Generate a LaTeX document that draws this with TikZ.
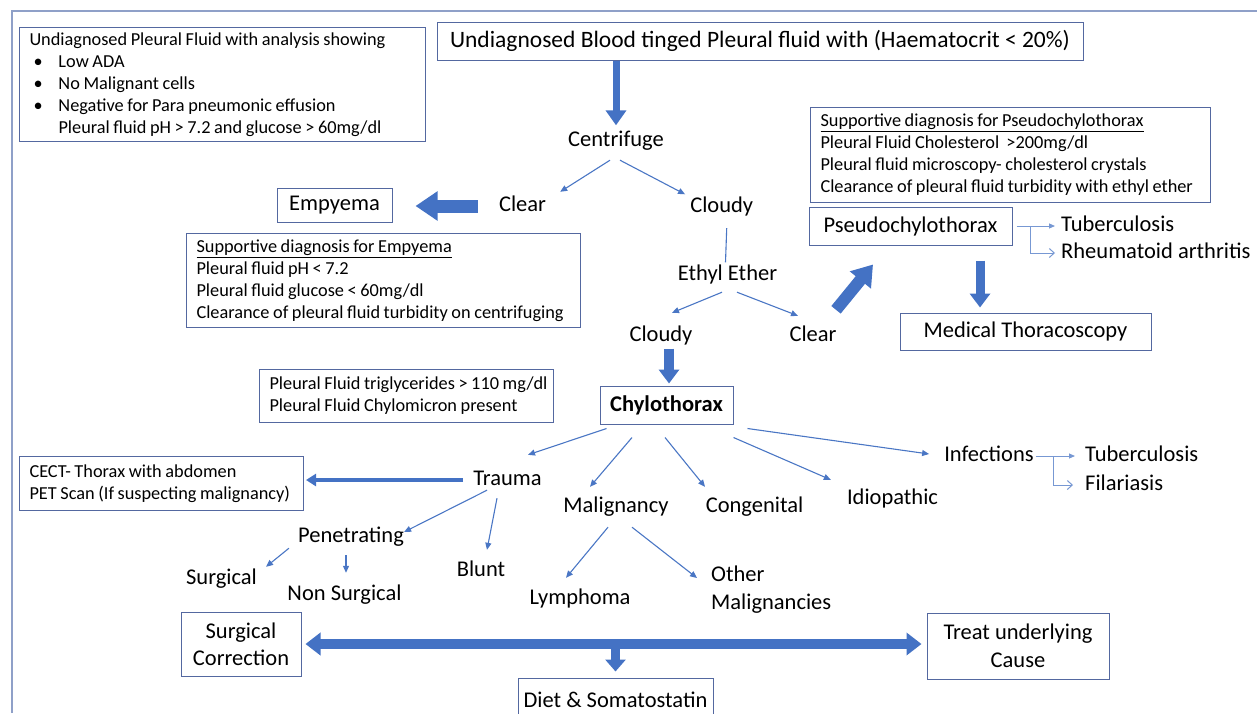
\documentclass[tikz,border=0pt]{standalone}
\usepackage{fontspec}
\setmainfont{Carlito}
\usepackage{tikz}
\usetikzlibrary{arrows.meta, positioning, calc}
\definecolor{framecolor}{RGB}{143, 160, 200}
\definecolor{boxcolor}{RGB}{84, 104, 160}
\definecolor{linkcolor}{RGB}{74, 118, 196}
\definecolor{arrowcolor}{RGB}{68, 114, 196}

\begin{document}
\begin{tikzpicture}[
    x=1pt, y=-1pt,
    label/.style={inner sep=2pt, text height=16pt, text depth=5pt, font=\fontsize{22.5}{27}\selectfont},
    box/.style={draw=boxcolor, line width=1pt, align=center, font=\fontsize{22.5}{27}\selectfont},
    info/.style={draw=boxcolor, line width=1pt, anchor=north west, align=left, inner xsep=10pt, font=\fontsize{18.3}{22}\selectfont,
        execute at begin node={\spaceskip=3.6pt plus 1pt minus 0.5pt\relax}},
    thinarrow/.style={draw=linkcolor, line width=1.1pt, -{Triangle[length=7pt,width=6pt]}},
    branch/.style={draw=linkcolor!75, line width=1pt},
    bigarrow/.style={draw=arrowcolor, line width=9pt, -{Triangle[length=15pt,width=21pt]}}
]
    \useasboundingbox (0,0) rectangle (1257,713);
    \draw[framecolor, line width=2pt] (12,713) -- (12,11) -- (1257,11);

    % Start and first split
    \node[box, minimum width=646pt, minimum height=38pt, font=\fontsize{23.5}{28}\selectfont] (top) at (760,41) {Undiagnosed Blood tinged Pleural fluid with (Haematocrit < 20\%)};
    \node[info, text width=386pt, minimum height=114pt] (lowada) at (19,27) {Undiagnosed Pleural Fluid with analysis showing\\
        \hspace*{4pt}\makebox[25pt][l]{\textbullet}Low ADA\\
        \hspace*{4pt}\makebox[25pt][l]{\textbullet}No Malignant cells\\
        \hspace*{4pt}\makebox[25pt][l]{\textbullet}Negative for Para pneumonic effusion\\
        \hspace*{29pt}Pleural fluid pH > 7.2 and glucose > 60mg/dl};
    \node[label] (centrifuge) at (616,141) {Centrifuge};
    \node[label] (clear) at (522.5,206) {Clear};
    \node[label] (cloudy) at (721.7,207) {Cloudy};

    % Empyema side
    \node[box, minimum width=115pt, minimum height=34pt] (empyema) at (334.5,205) {Empyema};
    \node[info, text width=374pt, minimum height=94pt] (empysupp) at (186,233) {\underline{Supportive diagnosis for Empyema}\\
        Pleural fluid pH < 7.2\\
        Pleural fluid glucose < 60mg/dl\\
        Clearance of pleural fluid turbidity on centrifuging};

    % Ethyl ether split
    \node[label] (ethyl) at (727.5,275) {Ethyl Ether};
    \node[label] (cloudytwo) at (661,336) {Cloudy};
    \node[label] (cleartwo) at (813,336) {Clear};

    % Pseudochylothorax side
    \node[info, text width=380pt, minimum height=95pt] (pseudosupp) at (810,107) {\underline{Supportive diagnosis for Pseudochylothorax}\\
        Pleural Fluid Cholesterol \ >200mg/dl\\
        Pleural fluid microscopy- cholesterol crystals\\
        Clearance of pleural fluid turbidity with ethyl ether};
    \node[box, minimum width=203pt, minimum height=38pt] (pseudo) at (910.5,226) {Pseudochylothorax};
    \node[label, anchor=west] (tbone) at (1059,226) {Tuberculosis};
    \node[label, anchor=west] (rheum) at (1059,253) {Rheumatoid arthritis};
    \node[box, minimum width=251pt, minimum height=37pt] (thoraco) at (1025.5,331.5) {Medical Thoracoscopy};

    % Chylothorax and causes
    \node[box, minimum width=133pt, minimum height=38pt, font=\fontsize{22.5}{27}\selectfont\bfseries] (chylo) at (666.5,405) {Chylothorax};
    \node[info, text width=274pt, minimum height=53pt] (trig) at (259,369) {\mbox{Pleural Fluid triglycerides > 110 mg/dl}\\
        Pleural Fluid Chylomicron present};
    \node[label] (trauma) at (507.5,480) {Trauma};
    \node[label] (malig) at (616,507) {Malignancy};
    \node[label] (congen) at (754.5,507) {Congenital};
    \node[label] (idio) at (892.5,499) {Idiopathic};
    \node[label] (infect) at (989,456) {Infections};
    \node[label, anchor=west] (tbtwo) at (1083,456) {Tuberculosis};
    \node[label, anchor=west] (filar) at (1083,485) {Filariasis};
    \node[info, text width=264pt, minimum height=54pt] (cect) at (19,456) {CECT- Thorax with abdomen\\
        PET Scan (If suspecting malignancy)};
    \node[label] (penetr) at (351,537) {Penetrating};
    \node[label] (blunt) at (481,571) {Blunt};
    \node[label] (surgical) at (221.5,579) {Surgical};
    \node[label] (nonsurg) at (344.5,595) {Non Surgical};
    \node[label] (lymph) at (580,599) {Lymphoma};
    \node[label, anchor=west, align=left, text height=, text depth=, font=\fontsize{22.5}{28}\selectfont] (othermal) at (709,590) {Other\\Malignancies};

    % Management
    \node[box, minimum width=120pt, minimum height=64pt, font=\fontsize{22.5}{27}\selectfont] (surgcorr) at (241,644) {Surgical\\Correction};
    \node[box, minimum width=182pt, minimum height=66pt, font=\fontsize{22.5}{28}\selectfont] (treat) at (1018,646) {Treat underlying\\Cause};
    \node[box, minimum width=195pt, minimum height=44pt] (diet) at (615.5,700) {Diet \& Somatostatin};

    % Connections - big arrows
    \draw[bigarrow, line width=7pt, -{Triangle[length=15pt,width=20pt]}, shorten >=3pt] (top.south -| centrifuge.north) -- (centrifuge.north);
    \draw[bigarrow, line width=13pt, -{Triangle[length=22pt,width=28pt]}, shorten <=19pt, shorten >=23pt] (clear.west) -- (clear.west -| empyema.east);
    \draw[bigarrow, line width=12pt, -{Triangle[length=20pt,width=26pt]}] ([shift={(23pt,13.5pt)}]cleartwo.north) -- ([shift={(-37.5pt,-19pt)}]pseudo.south);
    \draw[bigarrow, -{Triangle[length=14pt,width=20pt]}, shorten <=15pt, shorten >=5pt] ([xshift=69.5pt]pseudo.south) -- ([xshift=69.5pt]pseudo.south |- thoraco.north);
    \draw[bigarrow, line width=10pt, -{Triangle[length=14pt,width=20pt]}, shorten >=2pt] ([xshift=8pt]cloudytwo.south) -- ([xshift=8pt]cloudytwo.south |- chylo.north);
    \draw[bigarrow, line width=4.5pt, -{Triangle[length=10pt,width=12pt]}, shorten <=8pt, shorten >=2pt] (trauma.west) -- (trauma.west -| cect.east);
    \draw[bigarrow, line width=10pt, {Triangle[length=15pt,width=22pt]}-{Triangle[length=15pt,width=22pt]}, shorten <=4pt, shorten >=5pt] (surgcorr.east) -- (surgcorr.east -| treat.west);
    \draw[bigarrow, -{Triangle[length=12pt,width=20pt]}, shorten >=6pt] (surgcorr.east -| diet.north) -- (diet.north);

    % Connections - thin arrows
    \draw[thinarrow] ([shift={(-6pt,-6.5pt)}]centrifuge.south) -- ([shift={(12pt,1.5pt)}]clear.north east);
    \draw[thinarrow] ([shift={(4pt,-6.5pt)}]centrifuge.south) -- ([shift={(-3pt,0pt)}]cloudy.north west);
    \draw[draw=linkcolor, line width=1.1pt] ([shift={(5pt,-8.5pt)}]cloudy.south) -- ([xshift=-2pt]ethyl.north);
    \draw[thinarrow] ([shift={(-5.5pt,-4.5pt)}]ethyl.south) -- ([shift={(11pt,10.5pt)}]cloudytwo.north);
    \draw[thinarrow] ([shift={(9.5pt,-4.5pt)}]ethyl.south) -- ([shift={(-15pt,7.5pt)}]cleartwo.north);
    \draw[thinarrow] ([shift={(7pt,-4pt)}]chylo.south west) -- ([shift={(20.5pt,12.5pt)}]trauma.north);
    \draw[thinarrow] ([shift={(-34.5pt,-13pt)}]chylo.south) -- ([shift={(-26pt,7.5pt)}]malig.north);
    \draw[thinarrow] ([shift={(-1.5pt,-13pt)}]chylo.south) -- ([shift={(-49.5pt,7.5pt)}]congen.north);
    \draw[thinarrow] ([shift={(0pt,-13pt)}]chylo.south east) -- ([shift={(-14pt,6.5pt)}]idio.north west);
    \draw[thinarrow] ([shift={(14pt,-4pt)}]chylo.south east) -- ([shift={(-13pt,2pt)}]infect.west);
    \draw[thinarrow] ([shift={(-20.5pt,2.5pt)}]trauma.south) -- ([shift={(-2pt,5pt)}]penetr.east);
    \draw[thinarrow] ([shift={(-10.5pt,-5.5pt)}]trauma.south) -- ([shift={(6pt,8.5pt)}]blunt.north);
    \draw[thinarrow] ([shift={(-7pt,1.5pt)}]penetr.south west) -- ([shift={(7pt,-0.5pt)}]surgical.north east);
    \draw[thinarrow] ([shift={(-5pt,-5.5pt)}]penetr.south) -- ([shift={(1.5pt,9.5pt)}]nonsurg.north);
    \draw[thinarrow] ([shift={(-8pt,-7.5pt)}]malig.south) -- ([shift={(-14pt,8.5pt)}]lymph.north);
    \draw[thinarrow] ([shift={(16pt,-7.5pt)}]malig.south) -- ([shift={(-12pt,12pt)}]othermal.west);

    % Connections - branches
    \draw[branch, -{Triangle[length=6pt,width=5pt]}, shorten <=4pt, shorten >=4pt] (pseudo.east) -- (tbone.west);
    \draw[branch, -{Straight Barb[length=5pt,width=9pt]}, shorten >=4pt] ([xshift=18pt]pseudo.east) |- (rheum.west);
    \draw[branch, -{Triangle[length=6pt,width=5pt]}, shorten >=8pt] (infect.east) -- (tbtwo.west);
    \draw[branch, -{Straight Barb[length=5pt,width=9pt]}, shorten >=10pt] ([xshift=18pt]infect.east) |- (filar.west);

\end{tikzpicture}
\end{document}
